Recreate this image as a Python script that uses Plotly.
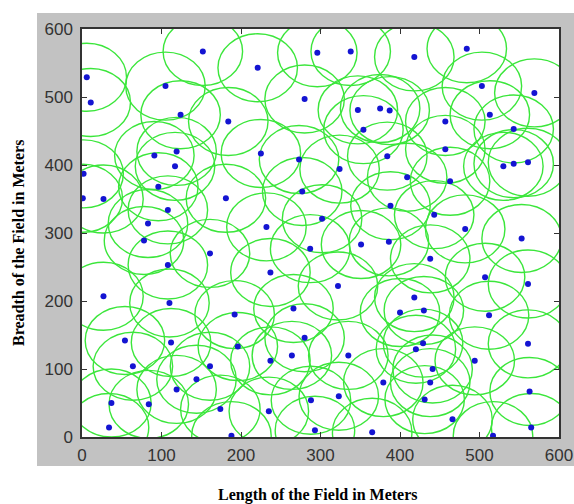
import plotly.graph_objects as go

# Sensor node positions (metres)
node_x = [6, 11, 2, 1, 27, 27, 37, 34, 54, 64, 84, 119, 112, 110, 108, 78, 83, 108, 96, 117,
          119, 91, 105, 124, 152, 184, 181, 161, 161, 144, 174, 188, 192, 196, 221, 225, 232, 237, 237, 235,
          264, 266, 280, 288, 293, 287, 277, 273, 280, 296, 338, 302, 324, 322, 323, 335, 351, 354, 347, 375,
          387, 384, 409, 388, 386, 418, 457, 457, 463, 443, 438, 418, 400, 430, 429, 420, 441, 438, 431, 379,
          365, 466, 494, 512, 507, 482, 553, 561, 561, 563, 565, 517, 530, 543, 561, 543, 513, 503, 569, 484]
node_y = [529, 492, 387, 351, 350, 207, 50, 14, 142, 104, 48, 70, 139, 197, 253, 289, 314, 334, 368, 398,
          420, 414, 516, 474, 567, 464, 351, 270, 104, 85, 41, 2, 180, 133, 543, 417, 309, 242, 112, 38,
          120, 189, 146, 54, 10, 277, 361, 408, 497, 565, 567, 321, 394, 222, 60, 120, 283, 452, 481, 483,
          480, 413, 382, 340, 287, 559, 464, 423, 376, 327, 262, 205, 183, 186, 138, 129, 100, 80, 55, 80,
          7, 26, 112, 179, 235, 306, 292, 225, 137, 67, 14, 2, 398, 402, 404, 453, 474, 516, 506, 571]
sensing_radius = 50
tick_vals = [0, 100, 200, 300, 400, 500, 600]

fig = go.Figure()
fig.add_trace(go.Scatter(x=node_x, y=node_y, mode="markers",
                         marker=dict(size=6, color="#1414d2"),
                         hoverinfo="x+y", showlegend=False))

shapes = [
    # gray MATLAB figure background
    dict(type="rect", xref="paper", yref="paper", x0=-0.0943, x1=1.04, y0=-0.0711, y1=1.0392,
         fillcolor="#c2c2c2", line=dict(width=0), layer="below"),
    # white axes background
    dict(type="rect", xref="paper", yref="paper", x0=0, x1=1, y0=0, y1=1,
         fillcolor="white", line=dict(width=0), layer="below"),
]
for cx, cy in zip(node_x, node_y):
    shapes.append(dict(type="circle", xref="x", yref="y",
                       x0=cx - sensing_radius, x1=cx + sensing_radius,
                       y0=cy - sensing_radius, y1=cy + sensing_radius,
                       line=dict(color="#3be63b", width=1.4), layer="below"))

axis_common = dict(range=[0, 600], tickvals=tick_vals, ticks="inside", ticklen=5,
                   tickcolor="#333333", showline=True, linecolor="#333333", linewidth=1.5,
                   mirror="ticks", showgrid=False, zeroline=False, automargin=False,
                   tickfont=dict(family="Liberation Sans, Arial", size=17, color="#333333"))

fig.update_layout(
    width=574, height=504,
    margin=dict(l=82, r=15, t=29, b=67),
    paper_bgcolor="white", plot_bgcolor="rgba(0,0,0,0)",
    shapes=shapes,
    xaxis=dict(**axis_common, ticklabelstandoff=2),
    yaxis=dict(**axis_common, ticklabelstandoff=4),
    annotations=[
        dict(text="<b>Length of the Field in Meters</b>", xref="paper", yref="paper",
             x=0.4948, y=-0.1422, showarrow=False, xanchor="center", yanchor="middle",
             font=dict(family="Liberation Serif, Times New Roman", size=16, color="black")),
        dict(text="<b>Breadth of the Field in Meters</b>", xref="paper", yref="paper",
             x=-0.1321, y=0.4755, showarrow=False, xanchor="center", yanchor="middle",
             textangle=-90,
             font=dict(family="Liberation Serif, Times New Roman", size=16, color="black")),
    ],
)

fig.write_html("out.html", config={"displayModeBar": False},
               post_script="document.body.style.margin='0';document.body.style.overflow='hidden';")
